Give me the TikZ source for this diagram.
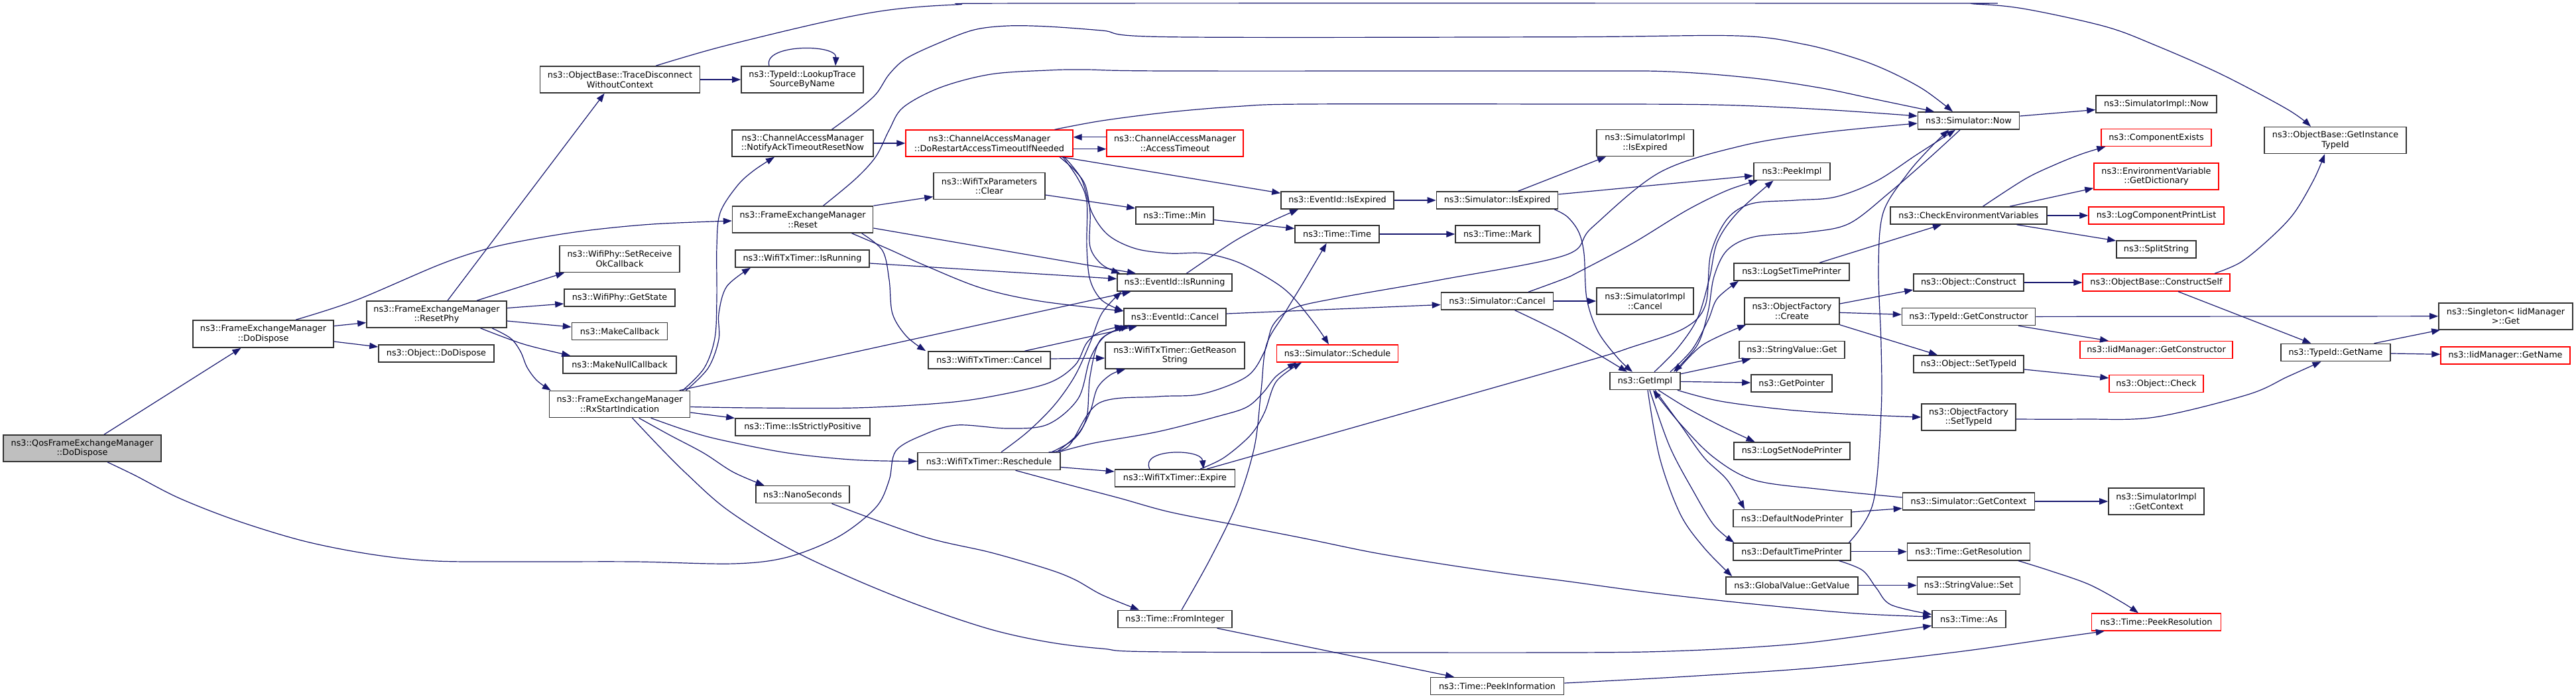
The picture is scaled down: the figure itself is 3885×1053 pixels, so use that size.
\documentclass[tikz,border=0pt]{standalone}
\usepackage{fontspec}
\setmainfont{DejaVu Sans}
\usetikzlibrary{arrows.meta}
\definecolor{edgec}{HTML}{191970}
\definecolor{ndc}{HTML}{333333}
\definecolor{rootfill}{HTML}{BFBFBF}
\definecolor{redc}{HTML}{FF0000}
\tikzset{
  nd/.style={draw=ndc, fill=white, line width=1.6pt, inner sep=0pt, align=center,
             font=\fontsize{12.8}{14.6}\selectfont, text=black},
  rd/.style={nd, draw=redc, line width=1.4pt},
  root/.style={nd, fill=rootfill},
  edge/.style={draw=edgec, line width=1.2pt, -{Triangle[length=13pt,width=9.5pt]}},
  sm/.style={smooth, tension=0.55}
}
\begin{document}
\begin{tikzpicture}[x=1pt,y=-1pt]
\path[fill=white, use as bounding box] (0,0) rectangle (3885,1053);
% ---------------- nodes ----------------
\node[root, minimum width=238, minimum height=40] (qos) at (124,676) {ns3::QosFrameExchangeManager\\::DoDispose};
\node[nd, minimum width=212, minimum height=41] (femdisp) at (397,503.5) {ns3::FrameExchangeManager\\::DoDispose};
\node[nd, minimum width=211, minimum height=40] (resetphy) at (658.5,474) {ns3::FrameExchangeManager\\::ResetPhy};
\node[nd, minimum width=174, minimum height=26] (objdisp) at (658,533) {ns3::Object::DoDispose};
\node[nd, minimum width=241, minimum height=40] (tracedisc) at (935,120) {ns3::ObjectBase::TraceDisconnect\\WithoutContext};
\node[nd, minimum width=184, minimum height=40] (lookup) at (1210,120) {ns3::TypeId::LookupTrace\\SourceByName};
\node[nd, minimum width=213, minimum height=40] (notifyack) at (1210.5,216) {ns3::ChannelAccessManager\\::NotifyAckTimeoutResetNow};
\node[rd, minimum width=252, minimum height=40] (dorestart) at (1492,216) {ns3::ChannelAccessManager\\::DoRestartAccessTimeoutIfNeeded};
\node[nd, minimum width=168, minimum height=40] (clear) at (1492,280.6) {ns3::WifiTxParameters\\::Clear};
\node[nd, minimum width=212, minimum height=40] (reset) at (1210.6,331) {ns3::FrameExchangeManager\\::Reset};
\node[nd, minimum width=202, minimum height=26] (isrunningT) at (1210,390) {ns3::WifiTxTimer::IsRunning};
\node[nd, minimum width=181, minimum height=40] (setrecv) at (934.5,390.5) {ns3::WifiPhy::SetReceive\\OkCallback};
\node[nd, minimum width=167, minimum height=26] (getstate) at (934.5,449) {ns3::WifiPhy::GetState};
\node[nd, minimum width=144, minimum height=26] (makecb) at (934.6,499.5) {ns3::MakeCallback};
\node[nd, minimum width=171, minimum height=26] (makenull) at (934.5,550) {ns3::MakeNullCallback};
\node[nd, minimum width=212, minimum height=40] (rxstart) at (934.6,609.5) {ns3::FrameExchangeManager\\::RxStartIndication};
\node[nd, minimum width=203, minimum height=26] (strictpos) at (1210.5,644) {ns3::Time::IsStrictlyPositive};
\node[nd, minimum width=141, minimum height=26] (nano) at (1210.5,745.6) {ns3::NanoSeconds};
\node[nd, minimum width=184, minimum height=26] (txcancel) at (1492,543) {ns3::WifiTxTimer::Cancel};
\node[nd, minimum width=215, minimum height=26] (resched) at (1491.5,695.5) {ns3::WifiTxTimer::Reschedule};
\node[rd, minimum width=206, minimum height=40] (accesstimeout) at (1772,216) {ns3::ChannelAccessManager\\::AccessTimeout};
\node[nd, minimum width=117, minimum height=26] (timemin) at (1771.5,325) {ns3::Time::Min};
\node[nd, minimum width=173, minimum height=26] (evrunning) at (1771.5,426) {ns3::EventId::IsRunning};
\node[nd, minimum width=154, minimum height=26] (evcancel) at (1772,478) {ns3::EventId::Cancel};
\node[nd, minimum width=210, minimum height=40] (reason) at (1772,536) {ns3::WifiTxTimer::GetReason\\String};
\node[nd, minimum width=181, minimum height=26] (expire) at (1772,721) {ns3::WifiTxTimer::Expire};
\node[rd, minimum width=183, minimum height=26] (schedule) at (2017,533) {ns3::Simulator::Schedule};
\node[nd, minimum width=170, minimum height=26] (evexpired) at (2017,302) {ns3::EventId::IsExpired};
\node[nd, minimum width=127, minimum height=26] (timetime) at (2016.6,353) {ns3::Time::Time};
\node[nd, minimum width=183, minimum height=26] (simexpired) at (2258,302) {ns3::Simulator::IsExpired};
\node[nd, minimum width=127, minimum height=26] (timemark) at (2258.6,353) {ns3::Time::Mark};
\node[nd, minimum width=169, minimum height=26] (simcancel) at (2258,454) {ns3::Simulator::Cancel};
\node[nd, minimum width=172, minimum height=26] (fromint) at (1772,933.5) {ns3::Time::FromInteger};
\node[nd, minimum width=201, minimum height=26] (peekinfo) at (2258,1034.5) {ns3::Time::PeekInformation};
\node[nd, minimum width=153, minimum height=26] (simnow) at (2969,182) {ns3::Simulator::Now};
\node[nd, minimum width=146, minimum height=40] (simimplexp) at (2481,215.5) {ns3::SimulatorImpl\\::IsExpired};
\node[nd, minimum width=115, minimum height=26] (peekimpl) at (2702.5,258.5) {ns3::PeekImpl};
\node[nd, minimum width=236, minimum height=26] (checkenv) at (2969,325) {ns3::CheckEnvironmentVariables};
\node[nd, minimum width=174, minimum height=26] (logsettime) at (2702,410) {ns3::LogSetTimePrinter};
\node[nd, minimum width=146, minimum height=40] (simimplcancel) at (2481,454) {ns3::SimulatorImpl\\::Cancel};
\node[nd, minimum width=143, minimum height=40] (ofcreate) at (2702.5,469) {ns3::ObjectFactory\\::Create};
\node[nd, minimum width=166, minimum height=26] (objconstruct) at (2969,426) {ns3::Object::Construct};
\node[nd, minimum width=201, minimum height=26] (getctor) at (2969,477.5) {ns3::TypeId::GetConstructor};
\node[nd, minimum width=159, minimum height=26] (strget) at (2702.5,527.5) {ns3::StringValue::Get};
\node[nd, minimum width=106, minimum height=26] (getimpl) at (2481,574.5) {ns3::GetImpl};
\node[nd, minimum width=122, minimum height=26] (getpointer) at (2702,578) {ns3::GetPointer};
\node[nd, minimum width=166, minimum height=26] (objsettypeid) at (2969,549) {ns3::Object::SetTypeId};
\node[nd, minimum width=142, minimum height=40] (ofsettypeid) at (2969,629) {ns3::ObjectFactory\\::SetTypeId};
\node[nd, minimum width=175, minimum height=26] (logsetnode) at (2702.5,680) {ns3::LogSetNodePrinter};
\node[nd, minimum width=199, minimum height=26] (simgetctx) at (2969,756) {ns3::Simulator::GetContext};
\node[nd, minimum width=178, minimum height=26] (defnode) at (2703,781.6) {ns3::DefaultNodePrinter};
\node[nd, minimum width=177, minimum height=26] (deftime) at (2702.5,831.8) {ns3::DefaultTimePrinter};
\node[nd, minimum width=185, minimum height=26] (getres) at (2969,831.8) {ns3::Time::GetResolution};
\node[nd, minimum width=199, minimum height=26] (gvgetvalue) at (2702.5,882.7) {ns3::GlobalValue::GetValue};
\node[nd, minimum width=155, minimum height=26] (strset) at (2969,882.7) {ns3::StringValue::Set};
\node[nd, minimum width=111, minimum height=26] (timeas) at (2969.5,933.5) {ns3::Time::As};
\node[nd, minimum width=182, minimum height=26] (simimplnow) at (3252,157) {ns3::SimulatorImpl::Now};
\node[rd, minimum width=166, minimum height=26] (compexists) at (3252,207.5) {ns3::ComponentExists};
\node[rd, minimum width=188, minimum height=40] (envdict) at (3252,266) {ns3::EnvironmentVariable\\::GetDictionary};
\node[rd, minimum width=204, minimum height=26] (logcomp) at (3252,325) {ns3::LogComponentPrintList};
\node[nd, minimum width=120, minimum height=26] (splitstr) at (3252,375.7) {ns3::SplitString};
\node[rd, minimum width=222, minimum height=26] (constructself) at (3252,426) {ns3::ObjectBase::ConstructSelf};
\node[nd, minimum width=214, minimum height=40] (getinstance) at (3522,211.6) {ns3::ObjectBase::GetInstance\\TypeId};
\node[nd, minimum width=202, minimum height=40] (singleton) at (3779,476.7) {ns3::Singleton< IidManager\\>::Get};
\node[rd, minimum width=230, minimum height=26] (iidgetctor) at (3252,527.6) {ns3::IidManager::GetConstructor};
\node[nd, minimum width=165, minimum height=26] (typeidgetname) at (3522.5,531.5) {ns3::TypeId::GetName};
\node[rd, minimum width=195, minimum height=26] (iidgetname) at (3778.5,536) {ns3::IidManager::GetName};
\node[rd, minimum width=142, minimum height=26] (objcheck) at (3252,578.5) {ns3::Object::Check};
\node[nd, minimum width=144, minimum height=40] (simimplctx) at (3252,756) {ns3::SimulatorImpl\\::GetContext};
\node[rd, minimum width=195, minimum height=26] (peekres) at (3252,938) {ns3::Time::PeekResolution};
% ---------------- edges ----------------
\draw[edge] (qos) -- (femdisp);
\draw[edge] plot[sm] coordinates {([xshift=38]qos.south) (204,717) (270,751) (357,785) (459,816) (561,836) (658,846) (800,847) (958,847) (1106,850) (1188,840) (1265,809) (1321,765) (1341,724) (1351,680) (1392,656) (1443,641) (1520,646) (1580,640) (1626,601) (1644,541) (1666,507) ([xshift=5]evcancel.south west)};
\draw[edge] ([yshift=12]femdisp.east) -- ([yshift=-12.5]resetphy.west);
\draw[edge] ([yshift=-11.5]femdisp.east) -- ([yshift=10]objdisp.west);
\draw[edge] plot[sm] coordinates {([xshift=49]femdisp.north) (536,453) (663,399) (735,375) (800,361) (882,348) (984,338) ([yshift=-2]reset.west)};
\draw[edge] ([xshift=16.5]resetphy.north) -- ([xshift=-23.4]tracedisc.south);
\draw[edge] ([xshift=60.5]resetphy.north) -- ([xshift=8]setrecv.south west);
\draw[edge] ([yshift=9.5]resetphy.east) -- ([yshift=-9]getstate.west);
\draw[edge] ([yshift=-10]resetphy.east) -- ([yshift=6.5]makecb.west);
\draw[edge] plot[sm] coordinates {([xshift=66]resetphy.south) (790,519) ([xshift=12]makenull.north west)};
\draw[edge] plot[sm] coordinates {([xshift=83.5]resetphy.south) (770,510) (785,530) (795,554) (810,574) ([xshift=3]rxstart.north west)};
\draw[edge] (tracedisc) -- (lookup);
\draw[edge] ([xshift=-50]lookup.north) .. controls (1150,66) and (1262,66) .. ([xshift=50]lookup.north);
\draw[edge] plot[sm] coordinates {([xshift=54]tracedisc.north) (1086,71) (1239,34) (1341,15) (1443,7) (1580,5) (2900,5) (2978,6) (3054,13.5) (3175,40) (3250,68) (3350,112) (3450,165) ([xshift=-37]getinstance.north)};
\draw[edge] (notifyack) -- (dorestart);
\draw[edge] plot[sm] coordinates {([xshift=44]notifyack.north) (1290,169) (1321,142) (1341,112) (1367,88) (1418,64) (1469,45) (1520,39) (1580,40) (1662,46) (1764,55.7) (2360,55.7) (2620,54) (2722,67) (2799,88) (2850,108) (2901,135) ([xshift=-24]simnow.north)};
\draw[edge] ([yshift=-8.7]dorestart.east) -- ([yshift=-8.7]accesstimeout.west);
\draw[edge] ([yshift=9.2]accesstimeout.west) -- ([yshift=9.2]dorestart.east);
\draw[edge] plot[sm] coordinates {([xshift=98.6]dorestart.north) (1662,182) (1764,169) (1866,160.5) (1968,157) (2360,157) (2585,158) (2748,165) ([yshift=7]simnow.west)};
\draw[edge] ([xshift=109]dorestart.south) -- ([yshift=-3]evexpired.north west);
\draw[edge] plot[sm] coordinates {([xshift=106]dorestart.south) (1621,257) (1637,280) (1644,321) (1644,372) (1662,399) ([xshift=5]evrunning.north west)};
\draw[edge] plot[sm] coordinates {([xshift=111]dorestart.south) (1626,270) (1639,304) (1639,372) (1644,422) (1662,453) ([yshift=9]evcancel.west)};
\draw[edge] plot[sm] coordinates {([xshift=113]dorestart.south) (1631,270) (1647,321) (1672,355) (1713,375) (1764,382) (1815,382) (1866,395) (1917,422) (1948,446) (1984,490) ([xshift=-13]schedule.north)};
\draw[edge] (reset.north east) -- ([yshift=-16]clear.west);
\draw[edge] plot[sm] coordinates {([xshift=31]reset.north) (1290,270) (1321,236) (1341,196) (1362,162) (1418,132) (1494,112) (1580,106) (1637,105) (1764,107) (2360,107) (2518,108) (2646,118) (2748,133) (2825,149) ([xshift=-52]simnow.north)};
\draw[edge] ([yshift=-13]reset.east) -- ([xshift=-58.5]evrunning.north);
\draw[edge] plot[sm] coordinates {([xshift=74]reset.south) (1341,376) (1392,399) (1479,434) (1568,454) ([yshift=9]evcancel.west)};
\draw[edge] plot[sm] coordinates {([xshift=89]reset.south) (1331,378) (1341,422) (1346,473) (1367,507) ([xshift=-3]txcancel.north west)};
\draw[edge] ([yshift=-13.4]clear.east) -- ([yshift=11]timemin.west);
\draw[edge] ([yshift=-7]isrunningT.east) -- ([yshift=5.6]evrunning.west);
\draw[edge] plot[sm] coordinates {([xshift=95]rxstart.north) (1062,555) (1078,510) (1081,450) (1081,372) (1086,321) (1112,280) (1137,257) ([xshift=-42.5]notifyack.south)};
\draw[edge] plot[sm] coordinates {([xshift=100]rxstart.north) (1068,555) (1084,512) (1084,473) (1096,432) ([xshift=-78]isrunningT.south)};
\draw[edge] ([xshift=90]rxstart.north) -- ([xshift=-66]evrunning.south);
\draw[edge] plot[sm] coordinates {([yshift=-4]rxstart.east) (1137,615) (1290,615) (1418,608) (1494,598) (1580,578) (1621,551) (1639,517) (1660,500) (evcancel.south west)};
\draw[edge] ([yshift=-12.5]rxstart.east) -- ([yshift=13.5]strictpos.west);
\draw[edge] plot[sm] coordinates {([xshift=47]rxstart.south) (1035,649) (1086,663) (1188,683) (1290,693.5) (resched.west)};
\draw[edge] plot[sm] coordinates {([xshift=29]rxstart.south) (1010,656) (1061,683) (1106,712) ([xshift=-58]nano.north)};
\draw[edge] plot[sm] coordinates {([xshift=19]rxstart.south) (994,673) (1035,714) (1096,768) (1188,826) (1290,874) (1392,915) (1494,949) (1580,968) (1662,978) (1764,983) (2360,984) (2544,981) (2697,972) (2799,960) ([yshift=-10]timeas.west)};
\draw[edge] ([yshift=2]txcancel.east) -- ([yshift=-4]reason.west);
\draw[edge] ([xshift=53.5]txcancel.north) -- ([xshift=-57]evcancel.south);
\draw[edge] plot[sm] coordinates {([xshift=18.5]resched.north) (1550,651) (1590,611) (1621,567) (1644,517) (1662,472) ([xshift=-80]evrunning.south)};
\draw[edge] plot[sm] coordinates {([xshift=94.5]resched.north) (1621,661) (1639,628) (1644,567) (1660,512) ([xshift=9]evcancel.south west)};
\draw[edge] plot[sm] coordinates {([xshift=102]resched.north) (1626,654) (1644,621) (1655,585) (1675,565) ([xshift=-75]reason.south)};
\draw[edge] plot[sm] coordinates {([xshift=105]resched.north) (1650,668) (1746,651) (1836,628) (1880,614) (1905,592) (1925,567) ([xshift=-62]schedule.south)};
\draw[edge] ([yshift=-9]resched.east) -- ([yshift=10]expire.west);
\draw[edge] plot[sm] coordinates {([xshift=40]resched.south) (1612,731) (1688,751) (1764,772) (1866,792) (1968,812) (2070,833) (2172,850) (2274,865) (2360,876) (2493,894) (2646,911) (2799,925) ([yshift=3.5]timeas.west)};
\draw[edge] plot[sm] coordinates {([xshift=90]resched.north) (1612,672) (1657,608) (1746,598) (1813,594) (1880,568) (1907,530) (1920,490) (1950,465) (2019,449) (2172,422) (2360,385) (2401,343) (2503,260) (2626,220) (2748,200) ([yshift=-4]simnow.west)};
\draw[edge] ([xshift=-38]expire.north) .. controls (1718,676) and (1812,676) .. ([xshift=43]expire.north);
\draw[edge] plot[sm] coordinates {([xshift=38]expire.north) (1846,690) (1886,656) (1907,622) (1925,575) ([xshift=-54]schedule.south)};
\draw[edge] plot[sm] coordinates {([xshift=48]expire.north) (2360,554) (2462,523) (2540,495) (2572,460) (2580,383) (2605,330) (2642,307) (2707,302) (2768,297) (2830,273) (2891,233) ([xshift=-20]simnow.south)};
\draw[edge] plot[sm] coordinates {([xshift=-13]simnow.south) (2911,237) (2850,290) (2789,337) (2728,350) (2646,357) (2605,377) (2585,417) (2576,470) (2560,520) ([xshift=43]getimpl.north)};
\draw[edge] plot[sm] coordinates {([xshift=86]deftime.north) (2825,758) (2837,622) (2837,520) (2833,405) (2840,321) (2876,263) (2911,223) ([xshift=-30]simnow.south)};
\draw[edge] ([yshift=7]simnow.east) -- ([yshift=-8.5]simimplnow.west);
\draw[edge] plot[sm] coordinates {([xshift=18]evrunning.north) (1825,388) (1866,361) (1917,334) ([xshift=-59]evexpired.south)};
\draw[edge] (evexpired) -- (simexpired);
\draw[edge] ([yshift=-6.5]timemin.east) -- ([yshift=8.4]timetime.west);
\draw[edge] (timetime) -- (timemark);
\draw[edge] ([yshift=5]evcancel.east) -- ([yshift=-5.5]simcancel.west);
\draw[edge] ([xshift=31.6]simexpired.north) -- ([xshift=-59]simimplexp.south);
\draw[edge] ([yshift=9]simexpired.east) -- ([yshift=-6.5]peekimpl.west);
\draw[edge] plot[sm] coordinates {([xshift=-6]simexpired.south east) (2364,327) (2381,350) (2389,383) (2393,450) (2410,500) (2440,540) ([xshift=-19]getimpl.north)};
\draw[edge] (simcancel) -- (simimplcancel);
\draw[edge] plot[sm] coordinates {([xshift=47]simcancel.north) (2360,420) (2381,410) (2462,367) (2544,317) (2605,287) ([xshift=-52]peekimpl.south)};
\draw[edge] plot[sm] coordinates {([xshift=26.5]simcancel.south) (2360,505) ([xshift=-27]getimpl.north)};
\draw[edge] plot[sm] coordinates {([xshift=14]getimpl.north) (2530,525) (2560,480) (2578,420) (2590,365) (2620,321) ([xshift=-28]peekimpl.south)};
\draw[edge] plot[sm] coordinates {([xshift=38]getimpl.north) (2552,527) (2576,483) (2590,450) ([xshift=-80]logsettime.south)};
\draw[edge] plot[sm] coordinates {([xshift=47]getimpl.north) (2568,520) ([xshift=3]ofcreate.south west)};
\draw[edge] ([yshift=-3]getimpl.north east) -- ([xshift=18]strget.south west);
\draw[edge] (getimpl) -- (getpointer);
\draw[edge] plot[sm] coordinates {([xshift=-5]getimpl.south east) (2595,605) (2697,618) (2799,625) (ofsettypeid.west)};
\draw[edge] plot[sm] coordinates {([xshift=20]getimpl.south) (2544,615) (2595,642) ([xshift=-56]logsetnode.north)};
\draw[edge] plot[sm] coordinates {([xshift=15]getimpl.south) (2534,640) (2570,690) (2605,724) ([xshift=-72]defnode.north)};
\draw[edge] plot[sm] coordinates {([xshift=7]getimpl.south) (2518,673) (2554,741) (2585,792) ([xshift=2]deftime.north west)};
\draw[edge] plot[sm] coordinates {([xshift=4]getimpl.south) (2503,690) (2534,775) (2570,826) ([xshift=10]gvgetvalue.north west)};
\draw[edge] plot[sm] coordinates {([yshift=6]simgetctx.west) (2748,738) (2646,724) (2585,690) (2534,639) ([xshift=12]getimpl.south)};
\draw[edge] (simgetctx) -- (simimplctx);
\draw[edge] ([yshift=9.6]defnode.east) -- ([yshift=-10.6]simgetctx.west);
\draw[edge] (deftime) -- (getres);
\draw[edge] plot[sm] coordinates {([xshift=71]deftime.south) (2809,860) (2830,887) (2852,912) ([yshift=7]timeas.west)};
\draw[edge] (gvgetvalue) -- (strset);
\draw[edge] ([xshift=42]logsettime.north) -- ([xshift=-41]checkenv.south);
\draw[edge] plot[sm] coordinates {([xshift=21.5]checkenv.north) (3054,270) (3100,248) (3140,232) ([xshift=7]compexists.south west)};
\draw[edge] ([xshift=62]checkenv.north) -- ([yshift=3]envdict.south west);
\draw[edge] (checkenv) -- (logcomp);
\draw[edge] ([xshift=72.5]checkenv.south) -- ([yshift=12.7]splitstr.west);
\draw[edge] ([yshift=11]ofcreate.east) -- ([yshift=-11]objconstruct.west);
\draw[edge] (ofcreate) -- (getctor);
\draw[edge] (ofcreate.south east) -- ([xshift=-47]objsettypeid.north);
\draw[edge] (objconstruct) -- (constructself);
\draw[edge] plot[sm] coordinates {([xshift=88]constructself.north) (3380,395) (3425,358) (3460,321) (3490,270) ([xshift=-16]getinstance.south)};
\draw[edge] ([xshift=33]constructself.south) -- ([xshift=-37]typeidgetname.north);
\draw[edge] (getctor) -- (singleton);
\draw[edge] ([xshift=75]getctor.south) -- ([xshift=-72]iidgetctor.north);
\draw[edge] ([yshift=-8]objsettypeid.east) -- ([yshift=8.5]objcheck.west);
\draw[edge] plot[sm] coordinates {([yshift=-3]ofsettypeid.east) (3140,632) (3250,629) (3390,595) (3450,568) ([xshift=-22]typeidgetname.south)};
\draw[edge] ([xshift=58]typeidgetname.north) -- ([xshift=3]singleton.south west);
\draw[edge] (typeidgetname) -- (iidgetname);
\draw[edge] plot[sm] coordinates {([xshift=75]getres.south) (3090,860) (3150,881) (3200,908) ([xshift=-27]peekres.north)};
\draw[edge] plot[sm] coordinates {([yshift=4.5]peekinfo.east) (2544,1020) (2748,1006) (2952,983) (3100,962) ([xshift=20]peekres.south west)};
\draw[edge] ([xshift=63.5]fromint.south) -- ([xshift=-65]peekinfo.north);
\draw[edge] plot[sm] coordinates {([xshift=10]fromint.north) (1825,843) (1866,758) (1892,673) (1902,588) (1910,520) (1937,473) (1968,422) ([xshift=-16]timetime.south)};
\draw[edge] plot[sm] coordinates {([xshift=44]nano.south) (1392,809) (1494,833) (1580,858) (1621,874) (1662,897) ([xshift=-54]fromint.north)};
\end{tikzpicture}
\end{document}
